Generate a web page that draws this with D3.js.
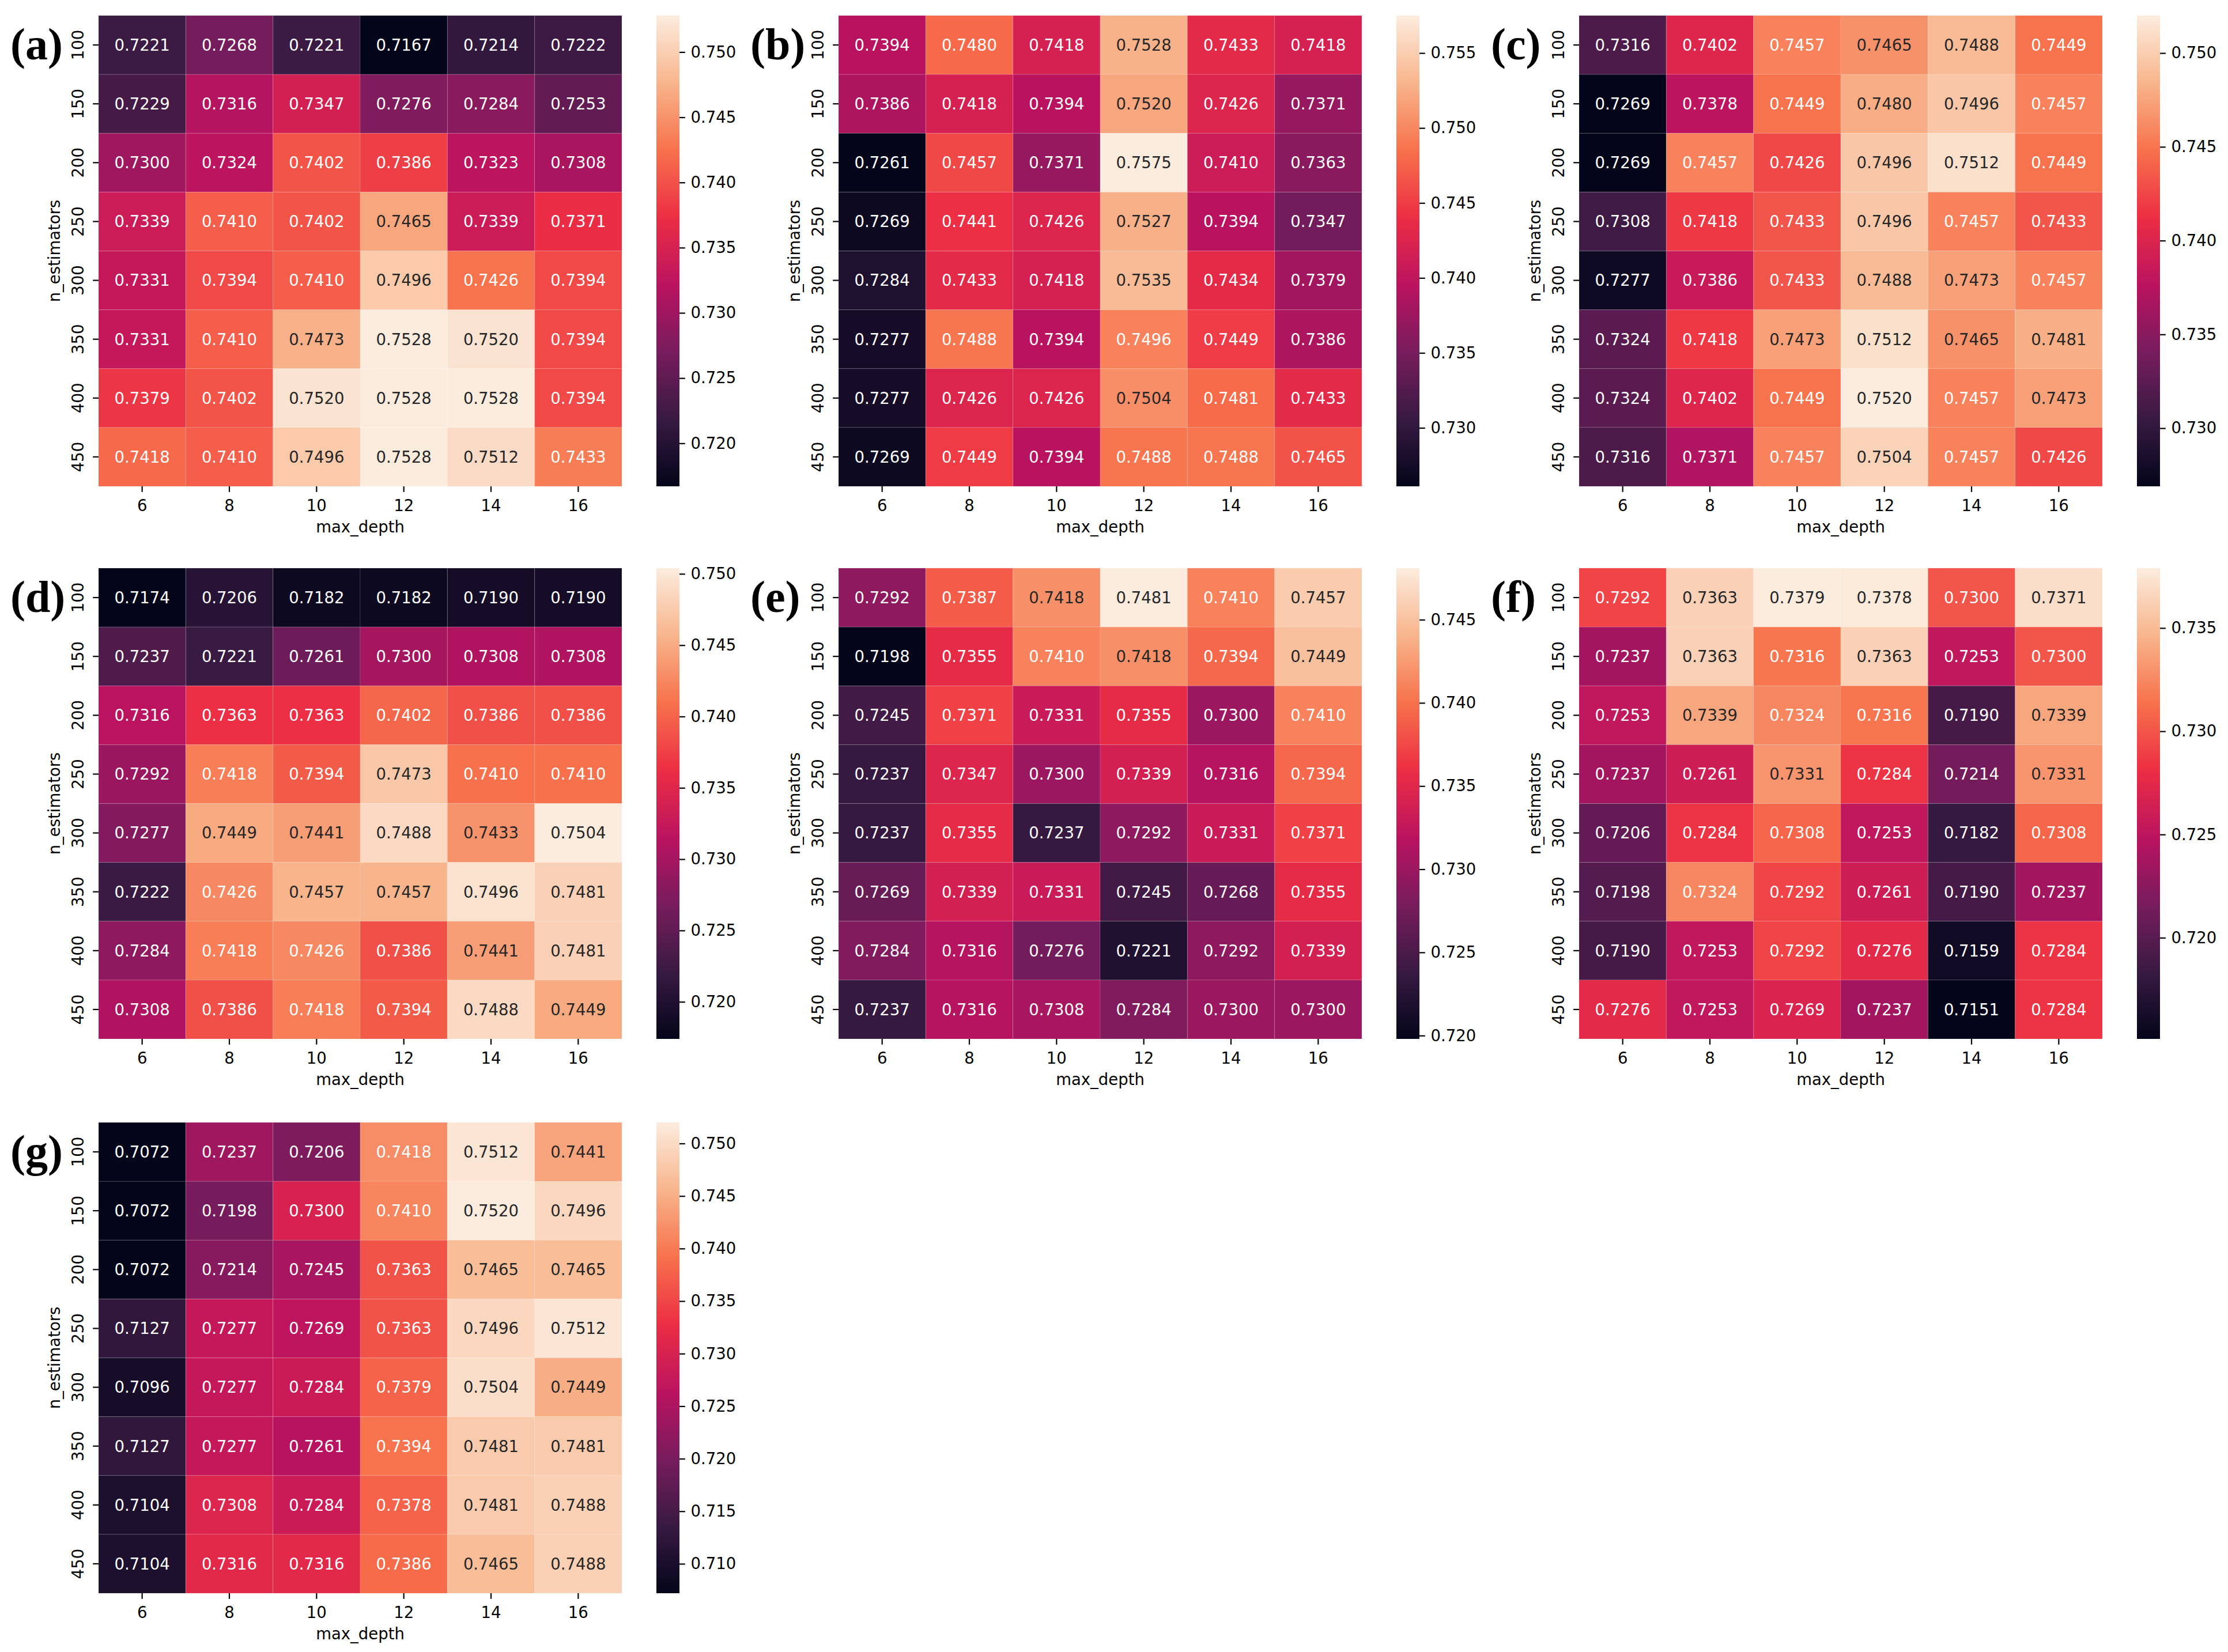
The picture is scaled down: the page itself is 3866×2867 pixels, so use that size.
<!DOCTYPE html>
<html><head><meta charset="utf-8">
<script src="https://cdn.jsdelivr.net/npm/d3@7"></script>
<style>html,body{margin:0;padding:0;background:#fff;} svg{display:block}</style>
</head><body>
<svg id="chart" width="3866" height="2867"></svg>
<script>
// ---------------- data ----------------
const maxDepth = [6, 8, 10, 12, 14, 16];
const nEstimators = [100, 150, 200, 250, 300, 350, 400, 450];
const panelLabels = ["(a)", "(b)", "(c)", "(d)", "(e)", "(f)", "(g)"];

const valuesA = [
  [0.7221, 0.7268, 0.7221, 0.7167, 0.7214, 0.7222],
  [0.7229, 0.7316, 0.7347, 0.7276, 0.7284, 0.7253],
  [0.7300, 0.7324, 0.7402, 0.7386, 0.7323, 0.7308],
  [0.7339, 0.7410, 0.7402, 0.7465, 0.7339, 0.7371],
  [0.7331, 0.7394, 0.7410, 0.7496, 0.7426, 0.7394],
  [0.7331, 0.7410, 0.7473, 0.7528, 0.7520, 0.7394],
  [0.7379, 0.7402, 0.7520, 0.7528, 0.7528, 0.7394],
  [0.7418, 0.7410, 0.7496, 0.7528, 0.7512, 0.7433]
];
const valuesB = [
  [0.7394, 0.7480, 0.7418, 0.7528, 0.7433, 0.7418],
  [0.7386, 0.7418, 0.7394, 0.7520, 0.7426, 0.7371],
  [0.7261, 0.7457, 0.7371, 0.7575, 0.7410, 0.7363],
  [0.7269, 0.7441, 0.7426, 0.7527, 0.7394, 0.7347],
  [0.7284, 0.7433, 0.7418, 0.7535, 0.7434, 0.7379],
  [0.7277, 0.7488, 0.7394, 0.7496, 0.7449, 0.7386],
  [0.7277, 0.7426, 0.7426, 0.7504, 0.7481, 0.7433],
  [0.7269, 0.7449, 0.7394, 0.7488, 0.7488, 0.7465]
];
const valuesC = [
  [0.7316, 0.7402, 0.7457, 0.7465, 0.7488, 0.7449],
  [0.7269, 0.7378, 0.7449, 0.7480, 0.7496, 0.7457],
  [0.7269, 0.7457, 0.7426, 0.7496, 0.7512, 0.7449],
  [0.7308, 0.7418, 0.7433, 0.7496, 0.7457, 0.7433],
  [0.7277, 0.7386, 0.7433, 0.7488, 0.7473, 0.7457],
  [0.7324, 0.7418, 0.7473, 0.7512, 0.7465, 0.7481],
  [0.7324, 0.7402, 0.7449, 0.7520, 0.7457, 0.7473],
  [0.7316, 0.7371, 0.7457, 0.7504, 0.7457, 0.7426]
];
const valuesD = [
  [0.7174, 0.7206, 0.7182, 0.7182, 0.7190, 0.7190],
  [0.7237, 0.7221, 0.7261, 0.7300, 0.7308, 0.7308],
  [0.7316, 0.7363, 0.7363, 0.7402, 0.7386, 0.7386],
  [0.7292, 0.7418, 0.7394, 0.7473, 0.7410, 0.7410],
  [0.7277, 0.7449, 0.7441, 0.7488, 0.7433, 0.7504],
  [0.7222, 0.7426, 0.7457, 0.7457, 0.7496, 0.7481],
  [0.7284, 0.7418, 0.7426, 0.7386, 0.7441, 0.7481],
  [0.7308, 0.7386, 0.7418, 0.7394, 0.7488, 0.7449]
];
const valuesE = [
  [0.7292, 0.7387, 0.7418, 0.7481, 0.7410, 0.7457],
  [0.7198, 0.7355, 0.7410, 0.7418, 0.7394, 0.7449],
  [0.7245, 0.7371, 0.7331, 0.7355, 0.7300, 0.7410],
  [0.7237, 0.7347, 0.7300, 0.7339, 0.7316, 0.7394],
  [0.7237, 0.7355, 0.7237, 0.7292, 0.7331, 0.7371],
  [0.7269, 0.7339, 0.7331, 0.7245, 0.7268, 0.7355],
  [0.7284, 0.7316, 0.7276, 0.7221, 0.7292, 0.7339],
  [0.7237, 0.7316, 0.7308, 0.7284, 0.7300, 0.7300]
];
const valuesF = [
  [0.7292, 0.7363, 0.7379, 0.7378, 0.7300, 0.7371],
  [0.7237, 0.7363, 0.7316, 0.7363, 0.7253, 0.7300],
  [0.7253, 0.7339, 0.7324, 0.7316, 0.7190, 0.7339],
  [0.7237, 0.7261, 0.7331, 0.7284, 0.7214, 0.7331],
  [0.7206, 0.7284, 0.7308, 0.7253, 0.7182, 0.7308],
  [0.7198, 0.7324, 0.7292, 0.7261, 0.7190, 0.7237],
  [0.7190, 0.7253, 0.7292, 0.7276, 0.7159, 0.7284],
  [0.7276, 0.7253, 0.7269, 0.7237, 0.7151, 0.7284]
];
const valuesG = [
  [0.7072, 0.7237, 0.7206, 0.7418, 0.7512, 0.7441],
  [0.7072, 0.7198, 0.7300, 0.7410, 0.7520, 0.7496],
  [0.7072, 0.7214, 0.7245, 0.7363, 0.7465, 0.7465],
  [0.7127, 0.7277, 0.7269, 0.7363, 0.7496, 0.7512],
  [0.7096, 0.7277, 0.7284, 0.7379, 0.7504, 0.7449],
  [0.7127, 0.7277, 0.7261, 0.7394, 0.7481, 0.7481],
  [0.7104, 0.7308, 0.7284, 0.7378, 0.7481, 0.7488],
  [0.7104, 0.7316, 0.7316, 0.7386, 0.7465, 0.7488]
];

const cbTicksA = [0.720, 0.725, 0.730, 0.735, 0.740, 0.745, 0.750];
const cbTicksB = [0.730, 0.735, 0.740, 0.745, 0.750, 0.755];
const cbTicksC = [0.730, 0.735, 0.740, 0.745, 0.750];
const cbTicksD = [0.720, 0.725, 0.730, 0.735, 0.740, 0.745, 0.750];
const cbTicksE = [0.720, 0.725, 0.730, 0.735, 0.740, 0.745];
const cbTicksF = [0.720, 0.725, 0.730, 0.735];
const cbTicksG = [0.710, 0.715, 0.720, 0.725, 0.730, 0.735, 0.740, 0.745, 0.750];

const xLabel = "max_depth";
const yLabel = "n_estimators";

// "rocket"-like colormap anchors (slightly more saturated, as in the reference image)
const rocketStops = ["#03051a", "#381a42", "#781c5d", "#bb1360", "#ec2e44", "#f7724c", "#f8b58c", "#fcecde"];

// ---------------- layout ----------------
const panels = [
  {label: panelLabels[0], values: valuesA, ticks: cbTicksA, col: 0, row: 0},
  {label: panelLabels[1], values: valuesB, ticks: cbTicksB, col: 1, row: 0},
  {label: panelLabels[2], values: valuesC, ticks: cbTicksC, col: 2, row: 0},
  {label: panelLabels[3], values: valuesD, ticks: cbTicksD, col: 0, row: 1},
  {label: panelLabels[4], values: valuesE, ticks: cbTicksE, col: 1, row: 1},
  {label: panelLabels[5], values: valuesF, ticks: cbTicksF, col: 2, row: 1},
  {label: panelLabels[6], values: valuesG, ticks: cbTicksG, col: 0, row: 2}
];
const colLefts = [171, 1455, 2740];
const rowTops = [27, 986, 1948];
const W = 908, H = 817;
const cbGap = 60, cbW = 40;
const FS = 27.5;
const TICK = 9.8, PAD = 9.8;
const sansFont = "'DejaVu Sans', 'Noto Sans', sans-serif";

const rocket = d3.piecewise(d3.interpolateRgb, rocketStops);

function luminance(c) {
  const rgb = d3.rgb(c);
  const f = v => { v /= 255; return v <= 0.03928 ? v / 12.92 : Math.pow((v + 0.055) / 1.055, 2.4); };
  return 0.2126 * f(rgb.r) + 0.7152 * f(rgb.g) + 0.0722 * f(rgb.b);
}
const LUM_THRESHOLD = luminance(rocket(0.773));

const svg = d3.select("#chart");
svg.append("rect").attr("width", 3866).attr("height", 2867).attr("fill", "#fff");
const defs = svg.append("defs");

panels.forEach((p, pi) => {
  const left = colLefts[p.col], top = rowTops[p.row];
  const g = svg.append("g").attr("transform", `translate(${left},${top})`);
  const flat = p.values.flat();
  const vmin = d3.min(flat), vmax = d3.max(flat);
  const color = d3.scaleSequential(rocket).domain([vmin, vmax]);

  const x = d3.scaleBand().domain(maxDepth).range([0, W]).padding(0);
  const y = d3.scaleBand().domain(nEstimators).range([0, H]).padding(0);

  const cells = [];
  p.values.forEach((row, ri) => row.forEach((v, ci) => cells.push({ne: nEstimators[ri], md: maxDepth[ci], v})));

  g.selectAll("rect.cell").data(cells).join("rect")
    .attr("class", "cell")
    .attr("x", d => x(d.md)).attr("y", d => y(d.ne))
    .attr("width", x.bandwidth()).attr("height", y.bandwidth())
    .attr("fill", d => color(d.v))
    .attr("stroke", "rgba(255,255,255,0.12)").attr("stroke-width", 1.2);

  g.selectAll("text.annot").data(cells).join("text")
    .attr("class", "annot")
    .attr("x", d => x(d.md) + x.bandwidth() / 2)
    .attr("y", d => y(d.ne) + y.bandwidth() / 2)
    .attr("text-anchor", "middle").attr("dy", "0.36em")
    .attr("font-family", sansFont).attr("font-size", FS)
    .attr("fill", d => luminance(color(d.v)) > LUM_THRESHOLD ? "#262626" : "#ffffff")
    .text(d => d.v.toFixed(4));

  // x axis
  const xa = g.append("g").attr("transform", `translate(0,${H})`)
    .call(d3.axisBottom(x).tickSize(TICK).tickPadding(PAD));
  xa.select(".domain").remove();
  xa.selectAll(".tick line").attr("stroke", "#000").attr("stroke-width", 2.2);
  xa.selectAll(".tick text").attr("font-family", sansFont).attr("font-size", FS).attr("fill", "#000")
    .attr("dy", null).attr("y", 43).attr("dominant-baseline", "alphabetic");

  // y axis
  const ya = g.append("g").call(d3.axisLeft(y).tickSize(TICK).tickPadding(PAD));
  ya.select(".domain").remove();
  ya.selectAll(".tick line").attr("stroke", "#000").attr("stroke-width", 2.2);
  ya.selectAll(".tick text").attr("font-family", sansFont).attr("font-size", FS).attr("fill", "#000")
    .attr("x", null).attr("dy", null).attr("text-anchor", "middle")
    .attr("transform", "translate(-26,0) rotate(-90)");

  // axis titles
  g.append("text").attr("x", W / 2).attr("y", H + 80)
    .attr("text-anchor", "middle").attr("font-family", sansFont).attr("font-size", FS).attr("fill", "#000")
    .text(xLabel);
  g.append("text").attr("transform", `translate(-67,${H / 2}) rotate(-90)`)
    .attr("text-anchor", "middle").attr("font-family", sansFont).attr("font-size", FS).attr("fill", "#000")
    .text(yLabel);

  // panel label
  svg.append("text").attr("x", left - 153).attr("y", top + 76)
    .attr("font-family", "'Liberation Serif', 'Times New Roman', serif").attr("font-weight", "bold")
    .attr("font-size", 78).attr("fill", "#000").text(p.label);

  // colorbar
  const cbx = W + cbGap;
  const cy = d3.scaleLinear().domain([vmin, vmax]).range([H, 0]);
  const gid = "grad" + pi;
  const grad = defs.append("linearGradient").attr("id", gid)
    .attr("x1", 0).attr("y1", 1).attr("x2", 0).attr("y2", 0);
  d3.range(0, 1.0001, 1 / 64).forEach(t => {
    grad.append("stop").attr("offset", t).attr("stop-color", color(vmin + t * (vmax - vmin)));
  });
  g.append("rect").attr("x", cbx).attr("y", 0).attr("width", cbW).attr("height", H)
    .attr("fill", `url(#${gid})`);
  const ca = g.append("g").attr("transform", `translate(${cbx + cbW},0)`)
    .call(d3.axisRight(cy).tickValues(p.ticks).tickFormat(d3.format(".3f")).tickSize(TICK).tickPadding(PAD));
  ca.select(".domain").remove();
  ca.selectAll(".tick line").attr("stroke", "#000").attr("stroke-width", 2.2);
  ca.selectAll(".tick text").attr("font-family", sansFont).attr("font-size", FS).attr("fill", "#000");
});
</script>
</body></html>
